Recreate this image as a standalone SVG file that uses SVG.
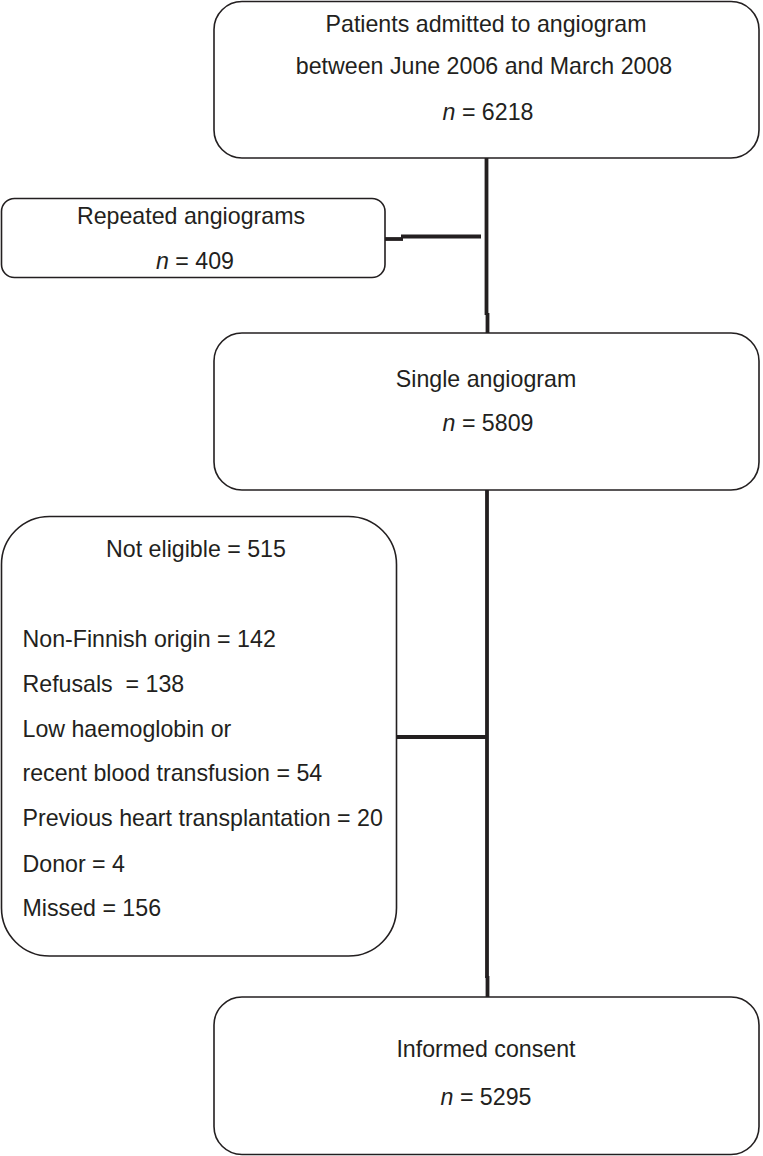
<svg xmlns="http://www.w3.org/2000/svg" width="763" height="1156" viewBox="0 0 763 1156">
<style>
.box{fill:#fff;stroke:#231f20;stroke-width:1.6}
.t{font-family:"Liberation Sans",Arial,sans-serif;font-size:23.2px;fill:#231f20}
.c{text-anchor:middle}
.ln{stroke:#231f20;stroke-width:3.8;fill:none}
</style>
<rect width="763" height="1156" fill="#fff"/>
<g id="connectors">
<line class="ln" x1="486.5" y1="158" x2="486.5" y2="315"/>
<line class="ln" x1="487.5" y1="313" x2="487.5" y2="333"/>
<line class="ln" x1="385" y1="239" x2="403" y2="239"/>
<line class="ln" x1="401" y1="236.5" x2="481" y2="236.5"/>
<line class="ln" x1="487" y1="490" x2="487" y2="978"/>
<line class="ln" x1="487.5" y1="976" x2="487.5" y2="997"/>
<line class="ln" x1="396" y1="737" x2="487" y2="737"/>
</g>
<g id="n1">
<rect class="box" x="214" y="1.5" width="545" height="156.5" rx="28"/>
<text class="t c" x="486" y="32">Patients admitted to angiogram</text>
<text class="t c" x="484" y="74">between June 2006 and March 2008</text>
<text class="t c" x="488" y="120"><tspan font-style="italic">n</tspan> = 6218</text>
</g>
<g id="n2">
<rect class="box" x="1.5" y="198.5" width="383.5" height="79" rx="13"/>
<text class="t c" x="191" y="224">Repeated angiograms</text>
<text class="t c" x="195" y="269"><tspan font-style="italic">n</tspan> = 409</text>
</g>
<g id="n3">
<rect class="box" x="214" y="333" width="545" height="157" rx="28"/>
<text class="t c" x="486" y="387">Single angiogram</text>
<text class="t c" x="488" y="431"><tspan font-style="italic">n</tspan> = 5809</text>
</g>
<g id="n4">
<rect class="box" x="1.5" y="516.5" width="395" height="439.5" rx="48"/>
<text class="t c" x="196" y="557">Not eligible = 515</text>
<text class="t" x="22.5" y="647">Non-Finnish origin = 142</text>
<text class="t" x="22.5" y="692" xml:space="preserve">Refusals  = 138</text>
<text class="t" x="22.5" y="737">Low haemoglobin or</text>
<text class="t" x="22.5" y="781">recent blood transfusion = 54</text>
<text class="t" x="22.5" y="826">Previous heart transplantation = 20</text>
<text class="t" x="22.5" y="872">Donor = 4</text>
<text class="t" x="22.5" y="916">Missed = 156</text>
</g>
<g id="n5">
<rect class="box" x="214" y="997" width="545" height="157.5" rx="28"/>
<text class="t c" x="486" y="1057">Informed consent</text>
<text class="t c" x="486" y="1105"><tspan font-style="italic">n</tspan> = 5295</text>
</g>
</svg>
